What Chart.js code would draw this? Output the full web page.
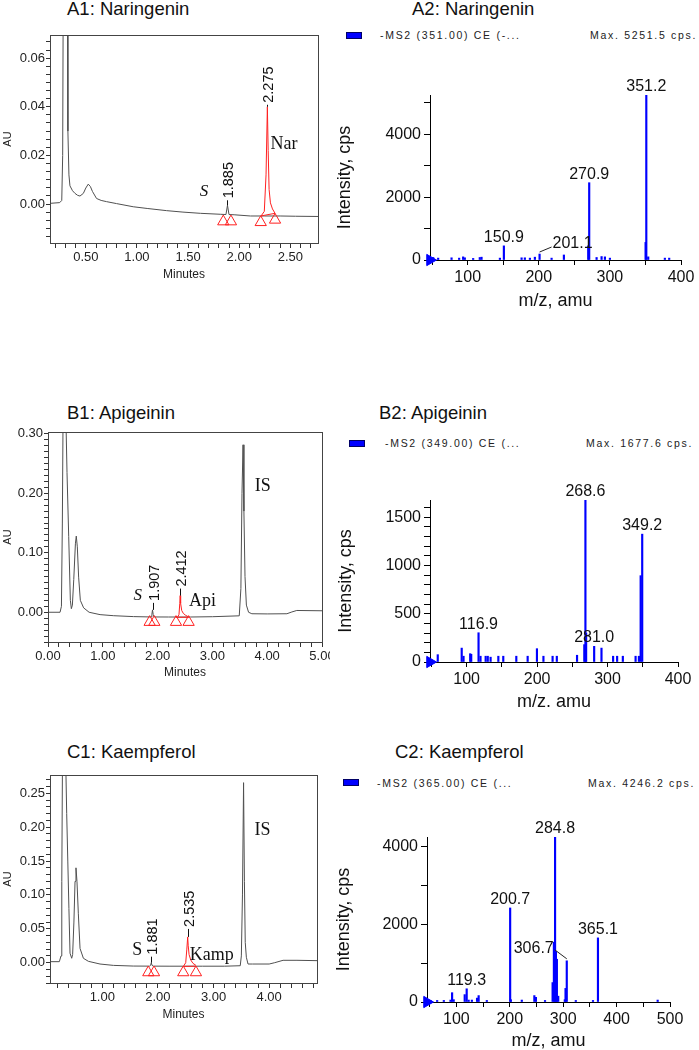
<!DOCTYPE html>
<html>
<head>
<meta charset="utf-8">
<script src="https://cdn.jsdelivr.net/npm/chart.js@4.4.1/dist/chart.umd.min.js"></script>
<style>
  body { margin: 0; background: #fff; }
  #page { position: relative; width: 699px; height: 1050px; overflow: hidden; font-family: 'Liberation Sans', Arial, sans-serif; color: #111; }
  canvas { position: absolute; }
  .ttl { position: absolute; font-size: 18.5px; line-height: 1; white-space: nowrap; }
  .leg { position: absolute; font-size: 10.5px; letter-spacing: 1.7px; line-height: 12px; color: #222; white-space: nowrap; }
  .key { position: absolute; width: 16px; height: 7px; background: #0000ff; border: 1px solid #000066; box-sizing: border-box; }
</style>
</head>
<body>
<div id="page">
  <div class="ttl" style="left:67px; top:0px;">A1: Naringenin</div>
  <div class="ttl" style="left:412px; top:0px;">A2: Naringenin</div>
  <div class="key" style="left:346px; top:32px;"></div>
  <div class="leg" style="left:380px; top:29px;">-MS2 (351.00) CE (-...</div>
  <div class="leg" style="left:590px; top:29px;">Max. 5251.5 cps.</div>

  <div class="ttl" style="left:67px; top:404px;">B1: Apigeinin</div>
  <div class="ttl" style="left:379px; top:404px;">B2: Apigeinin</div>
  <div class="key" style="left:349px; top:440px;"></div>
  <div class="leg" style="left:385px; top:437px;">-MS2 (349.00) CE (...</div>
  <div class="leg" style="left:586px; top:437px;">Max. 1677.6 cps.</div>

  <div class="ttl" style="left:67px; top:743px;">C1: Kaempferol</div>
  <div class="ttl" style="left:395px; top:743px;">C2: Kaempferol</div>
  <div class="key" style="left:343px; top:779px;"></div>
  <div class="leg" style="left:377px; top:777px;">-MS2 (365.00) CE (...</div>
  <div class="leg" style="left:588px; top:777px;">Max. 4246.2 cps.</div>

  <canvas id="a1" width="330" height="270" style="left:0; top:20px;"></canvas>
  <canvas id="a2" width="364" height="260" style="left:335px; top:55px;"></canvas>
  <canvas id="b1" width="330" height="270" style="left:0; top:425px;"></canvas>
  <canvas id="b2" width="364" height="250" style="left:335px; top:470px;"></canvas>
  <canvas id="c1" width="330" height="270" style="left:0; top:765px;"></canvas>
  <canvas id="c2" width="364" height="250" style="left:335px; top:800px;"></canvas>
</div>
<script>
Chart.defaults.font.family = "'Liberation Sans', Arial, sans-serif";
Chart.defaults.color = '#222';

// ---------- A1: Naringenin chromatogram ----------
const a1Time = [0.15, 0.245, 0.265, 0.274, 0.282, 0.30, 0.318, 0.325, 0.335, 0.345, 0.37, 0.394, 0.42, 0.443, 0.476, 0.50, 0.524, 0.545, 0.565, 0.605, 0.65, 0.703, 0.80, 0.964, 1.10, 1.29, 1.45, 1.62, 1.82, 1.87, 1.885, 1.90, 1.95, 2.11, 2.25, 2.40, 2.55, 2.77];
const a1AU = [0.0003, 0.0006, 0.0015, 0.02, 0.12, 0.30, 0.12, 0.03, 0.012, 0.0075, 0.0055, 0.0044, 0.0036, 0.0033, 0.0044, 0.0066, 0.0082, 0.0072, 0.0052, 0.0023, 0.0015, 0.0010, 0.0002, -0.0011, -0.0018, -0.0027, -0.0033, -0.0038, -0.0042, -0.0043, -0.0005, -0.0043, -0.0044, -0.0049, -0.0049, -0.0049, -0.005, -0.0051];
const a1NarTime = [2.215, 2.245, 2.262, 2.275, 2.283, 2.292, 2.305, 2.325, 2.35];
const a1NarAU = [-0.0048, -0.003, 0.012, 0.040, 0.022, 0.006, 0.0005, -0.002, -0.0038];
const a1BaseTime = [2.21, 2.35];
const a1BaseAU = [-0.0049, -0.0038];
const a1MarkTime = [1.844, 1.919, 2.21, 2.35];
const a1MarkAU = [-0.0072, -0.0072, -0.0075, -0.0065];
const a1PeakRT = [1.885, 2.275];
const a1PeakTop = [-0.0005, 0.040];
const a1XLabels = [0.5, 1.0, 1.5, 2.0, 2.5];
const a1YLabels = [0, 0.02, 0.04, 0.06];

// ---------- B1: Apigenin chromatogram ----------
const b1Time = [0.0, 0.22, 0.245, 0.262, 0.28, 0.30, 0.328, 0.347, 0.378, 0.408, 0.426, 0.445, 0.47, 0.50, 0.516, 0.535, 0.559, 0.59, 0.65, 0.75, 0.95, 1.2, 1.56, 1.88, 1.895, 1.907, 1.92, 1.94, 2.2, 2.6, 3.0, 3.49, 3.52, 3.54, 3.559, 3.575, 3.595, 3.62, 3.66, 3.72, 4.0, 4.36, 4.45, 4.54, 5.0];
const b1AU = [0.0, 0.0, 0.01, 0.15, 0.40, 0.45, 0.32, 0.235, 0.127, 0.02, 0.006, 0.012, 0.055, 0.115, 0.128, 0.11, 0.059, 0.02, 0.0074, 0.0, -0.004, -0.0058, -0.0073, -0.0079, -0.004, 0.004, -0.004, -0.0079, -0.008, -0.008, -0.0075, -0.006, 0.04, 0.2, 0.2815, 0.17, 0.06, 0.012, 0.0, -0.0025, -0.0028, -0.0025, 0.0005, 0.003, 0.0025];
const b1ApiTime = [2.365, 2.39, 2.405, 2.412, 2.42, 2.44, 2.47, 2.51, 2.566];
const b1ApiAU = [-0.008, -0.004, 0.015, 0.028, 0.015, 0.003, -0.002, -0.005, -0.008];
const b1BaseTime = [2.336, 2.566];
const b1BaseAU = [-0.0085, -0.0085];
const b1MarkTime = [1.855, 1.94, 2.336, 2.566];
const b1MarkAU = [-0.0166, -0.0166, -0.0166, -0.0166];
const b1PeakRT = [1.907, 2.412];
const b1PeakTop = [0.004, 0.028];
const b1XLabels = [0, 1, 2, 3, 4, 5];
const b1YLabels = [0, 0.1, 0.2, 0.3];

// ---------- C1: Kaempferol chromatogram ----------
const c1Time = [0.06, 0.228, 0.258, 0.272, 0.288, 0.31, 0.342, 0.36, 0.38, 0.40, 0.42, 0.45, 0.467, 0.49, 0.51, 0.527, 0.545, 0.569, 0.60, 0.66, 0.75, 0.959, 1.2, 1.557, 1.85, 1.868, 1.881, 1.895, 1.92, 2.2, 2.45, 2.8, 3.2, 3.48, 3.50, 3.52, 3.54, 3.555, 3.57, 3.59, 3.62, 3.7, 4.0, 4.1, 4.25, 4.5, 4.86];
const c1AU = [0.0015, 0.0015, 0.01, 0.12, 0.35, 0.40, 0.30, 0.22, 0.15, 0.08, 0.014, 0.0065, 0.012, 0.06, 0.12, 0.14, 0.12, 0.073, 0.021, 0.0065, 0.002, -0.002, -0.004, -0.005, -0.0051, -0.004, 0.0, -0.004, -0.0051, -0.0052, -0.0052, -0.0052, -0.0052, -0.0045, 0.01, 0.10, 0.2657, 0.12, 0.03, 0.008, -0.002, -0.002, -0.002, 0.0, 0.0035, 0.0035, 0.003];
const c1KampTime = [2.46, 2.50, 2.52, 2.535, 2.545, 2.56, 2.59, 2.63, 2.684];
const c1KampAU = [-0.0052, 0.0, 0.02, 0.038, 0.025, 0.012, 0.004, -0.001, -0.004];
const c1BaseTime = [2.456, 2.684];
const c1BaseAU = [-0.0055, -0.0052];
const c1MarkTime = [1.827, 1.93, 2.456, 2.684];
const c1MarkAU = [-0.0145, -0.0145, -0.0145, -0.0145];
const c1PeakRT = [1.881, 2.535];
const c1PeakTop = [0.0, 0.038];
const c1XLabels = [1, 2, 3, 4];
const c1YLabels = [0, 0.05, 0.10, 0.15, 0.20, 0.25];

// ---------- A2: Naringenin MS2 spectrum ----------
const a2MZ = [51.5, 58.5, 77.3, 88, 93.6, 96, 107.7, 117, 119.5, 145.3, 150.9, 175.8, 180.4, 187.5, 194.5, 201.1, 218, 235.3, 269.5, 270.9, 281.3, 288.3, 293, 300, 350.2, 351.2, 353.9, 377.3, 383.4];
const a2CPS = [80, 60, 70, 60, 100, 70, 50, 80, 90, 60, 450, 70, 70, 60, 90, 190, 60, 160, 450, 2460, 80, 110, 100, 60, 560, 5251.5, 100, 60, 60];
const a2Peaks = [150.9, 201.1, 270.9, 351.2];
const a2XLabels = [100, 200, 300, 400];
const a2YLabels = [0, 2000, 4000];

// ---------- B2: Apigenin MS2 spectrum ----------
const b2MZ = [59, 93, 95.6, 105, 106.5, 116.9, 119.7, 127, 130, 134, 145, 152, 170.5, 186.6, 199.8, 209, 222, 228, 256.7, 267, 268.6, 269.6, 281.0, 291.4, 307.9, 313.6, 321.7, 339.8, 344.5, 347, 349.2];
const b2CPS = [76, 144, 60, 86, 80, 303, 60, 60, 60, 50, 60, 60, 60, 60, 138, 60, 60, 60, 70, 180, 1677.6, 300, 162, 144, 60, 60, 60, 60, 60, 894, 1324];
const b2Peaks = [116.9, 268.6, 281.0, 349.2];
const b2XLabels = [100, 200, 300, 400];
const b2YLabels = [0, 500, 1000, 1500];

// ---------- C2: Kaempferol MS2 spectrum ----------
const c2MZ = [51.7, 64, 76.5, 89, 92, 95, 115.6, 119.3, 123, 129, 138.7, 141.7, 157, 200.7, 202, 222.5, 246, 249, 266, 280.2, 282.6, 284.8, 286.4, 288.2, 290.7, 303, 304.4, 306.7, 323.6, 355.8, 365.1, 476.9];
const c2CPS = [40, 40, 40, 50, 240, 60, 190, 340, 50, 50, 100, 165, 40, 2420, 60, 50, 165, 120, 40, 500, 1540, 4246.2, 1300, 1100, 150, 60, 350, 1060, 40, 40, 1650, 50];
const c2Peaks = [119.3, 200.7, 284.8, 306.7, 365.1];
const c2XLabels = [100, 200, 300, 400, 500];
const c2YLabels = [0, 2000, 4000];

// ---------- helpers ----------
const pts = (xs, ys) => xs.map((x, i) => ({ x, y: ys[i] }));
const near = (list, v) => list.some(t => Math.abs(t - v) < 1e-6);

function tickRange(min, max, step) {
    const out = [];
    for (let k = Math.ceil(min / step - 1e-6); k * step <= max + 1e-9; k++) out.push(+(k * step).toFixed(6));
    return out;
}

// fixed axis box sizes, and no extra room for edge labels
function fixWidth(w) {
    return s => { s.width = w; s.paddingTop = 0; s.paddingBottom = 0; s.paddingLeft = 0; s.paddingRight = 0; };
}
function fixHeight(h) {
    return s => { s.height = h; s.paddingTop = 0; s.paddingBottom = 0; s.paddingLeft = 0; s.paddingRight = 0; };
}

const RED = '#ff2020';
const SERIF = '"Liberation Serif", "Times New Roman", serif';

function chromatogram(id, c) {
    return new Chart(document.getElementById(id), {
        type: 'line',
        data: {
            datasets: [
                { data: pts(c.markT, c.markAU), showLine: false, pointStyle: 'triangle', pointRadius: 6.5, pointBorderColor: RED, pointBackgroundColor: 'rgba(0,0,0,0)', pointBorderWidth: 1, clip: false },
                { data: pts(c.redT, c.redAU), borderColor: RED, borderWidth: 1, pointRadius: 0 },
                { data: pts(c.baseT, c.baseAU), borderColor: RED, borderWidth: 1, pointRadius: 0 },
                { data: pts(c.t, c.au), borderColor: '#505050', borderWidth: 1, pointRadius: 0 }
            ]
        },
        options: {
            responsive: false, animation: false, events: [],
            layout: { autoPadding: false, padding: { top: c.padTop, right: c.padRight, left: 0, bottom: 0 } },
            plugins: { legend: { display: false }, tooltip: { enabled: false } },
            scales: {
                x: {
                    type: 'linear', min: c.xMin, max: c.xMax,
                    afterFit: fixHeight(c.xH),
                    afterBuildTicks: s => { s.ticks = tickRange(c.xMin, c.xMax, c.xStep).map(value => ({ value })); },
                    ticks: { autoSkip: false, maxRotation: 0, minRotation: 0, padding: 2, font: { size: 13 }, color: '#222',
                             callback: v => near(c.xLabels, v) ? v.toFixed(2) : '' },
                    grid: { drawOnChartArea: false, tickLength: 5, color: '#333' },
                    border: { display: false },
                    title: { display: true, text: 'Minutes', color: '#222', font: { size: 12, lineHeight: 1 }, padding: { top: 0, bottom: c.xTitlePad } }
                },
                y: {
                    min: c.yMin, max: c.yMax,
                    afterFit: fixWidth(c.yW),
                    afterBuildTicks: s => { s.ticks = tickRange(c.yMin, c.yMax, c.yStep).map(value => ({ value })); },
                    ticks: { autoSkip: false, padding: 1, font: { size: 13 }, color: '#222',
                             callback: v => near(c.yLabels, v) ? v.toFixed(2) : '' },
                    grid: { drawOnChartArea: false, tickLength: 4, color: '#333' },
                    border: { display: false },
                    title: { display: true, text: 'AU', color: '#222', font: { size: 11, lineHeight: 1 }, padding: { top: 2, bottom: 0 } }
                }
            }
        },
        plugins: [{
            id: 'chromMarks',
            afterDatasetsDraw(chart) {
                const { ctx, chartArea: a, scales: { x, y } } = chart;
                ctx.save();
                // frame round the plot
                ctx.strokeStyle = '#444';
                ctx.lineWidth = 1;
                const L = Math.round(a.left) + 0.5, T = Math.round(a.top) + 0.5;
                ctx.strokeRect(L, T, Math.round(a.right) - Math.round(a.left), Math.round(a.bottom) - Math.round(a.top));
                // retention time labels
                ctx.fillStyle = '#111';
                ctx.strokeStyle = '#111';
                c.peakRT.forEach((rt, i) => {
                    const px = Math.round(x.getPixelForValue(rt)) + 0.5;
                    const py = y.getPixelForValue(c.peakTop[i]);
                    const len = c.tick[i];
                    ctx.beginPath(); ctx.moveTo(px, py); ctx.lineTo(px, py - len); ctx.stroke();
                    ctx.save();
                    ctx.translate(px, py - len - 2);
                    ctx.rotate(-Math.PI / 2);
                    ctx.font = '14.5px "Liberation Sans", Arial, sans-serif';
                    ctx.textAlign = 'left';
                    ctx.textBaseline = 'middle';
                    ctx.fillText(rt.toFixed(3), 0, 1);
                    ctx.restore();
                });
                // peak names
                ctx.textAlign = 'center';
                ctx.textBaseline = 'middle';
                c.notes.forEach(n => {
                    ctx.font = n.font;
                    ctx.fillText(n.text, x.getPixelForValue(n.t), y.getPixelForValue(n.au));
                });
                ctx.restore();
            }
        }]
    });
}

function spectrum(id, c) {
    return new Chart(document.getElementById(id), {
        type: 'bar',
        data: {
            datasets: [
                { type: 'scatter', data: [{ x: c.xMin, y: 0 }], pointStyle: 'triangle', pointRotation: 90, pointRadius: 6.5,
                  pointBackgroundColor: '#0000ff', pointBorderColor: '#0000ff', clip: false },
                { data: pts(c.mz, c.cps), backgroundColor: '#0000ff', borderWidth: 0, barThickness: 1.5 }
            ]
        },
        options: {
            responsive: false, animation: false, events: [],
            layout: { autoPadding: false, padding: { top: c.padTop, right: c.padRight, left: 0, bottom: 0 } },
            plugins: { legend: { display: false }, tooltip: { enabled: false } },
            scales: {
                x: {
                    type: 'linear', min: c.xMin, max: c.xMax, offset: false,
                    afterFit: fixHeight(c.xH),
                    afterBuildTicks: s => { s.ticks = tickRange(c.xMin, c.xMax, 50).map(value => ({ value })); },
                    ticks: { autoSkip: false, maxRotation: 0, minRotation: 0, padding: 3, font: { size: 16 }, color: '#111',
                             callback: v => near(c.xLabels, v) ? String(v) : '' },
                    grid: { offset: false, drawOnChartArea: false, tickLength: 5, color: '#000' },
                    border: { display: true, color: '#000' },
                    title: { display: true, text: c.xTitle, color: '#111', font: { size: 18, lineHeight: 1 }, padding: { top: 0, bottom: c.xTitlePad } }
                },
                y: {
                    min: 0, max: c.yMax,
                    afterFit: fixWidth(c.yW),
                    afterBuildTicks: s => { s.ticks = tickRange(0, c.yMax, c.yStep).map(value => ({ value })); },
                    ticks: { autoSkip: false, padding: 3, font: { size: 16 }, color: '#111',
                             callback: v => near(c.yLabels, v) ? String(v) : '' },
                    grid: { drawOnChartArea: false, tickLength: 6, color: '#000' },
                    border: { display: true, color: '#000' },
                    title: { display: true, text: 'Intensity, cps', color: '#111', font: { size: 18, lineHeight: 1 }, padding: { top: c.yTitlePad, bottom: 0 } }
                }
            }
        },
        plugins: [{
            id: 'peakText',
            afterDatasetsDraw(chart) {
                const { ctx, scales: { x, y } } = chart;
                ctx.save();
                ctx.font = '16px "Liberation Sans", Arial, sans-serif';
                ctx.fillStyle = '#111';
                ctx.strokeStyle = '#222';
                ctx.lineWidth = 1;
                c.peaks.forEach(mz => {
                    const i = c.mz.indexOf(mz);
                    const bx = x.getPixelForValue(mz);
                    const top = y.getPixelForValue(c.cps[i]);
                    const text = mz.toFixed(1);
                    const lead = c.leaders[text];
                    if (lead) {
                        const ex = bx + lead.dx, ey = top - 2 + lead.dy;
                        ctx.beginPath(); ctx.moveTo(bx, top - 2); ctx.lineTo(ex, ey); ctx.stroke();
                        ctx.textAlign = lead.align;
                        ctx.textBaseline = 'middle';
                        ctx.fillText(text, ex + (lead.align === 'left' ? 1 : -1), ey + lead.ty);
                    } else {
                        ctx.textAlign = 'center';
                        ctx.textBaseline = 'alphabetic';
                        ctx.fillText(text, bx, top - 4);
                    }
                });
                ctx.restore();
            }
        }]
    });
}

// ---------- build the six panels ----------
chromatogram('a1', {
    t: a1Time, au: a1AU, redT: a1NarTime, redAU: a1NarAU, baseT: a1BaseTime, baseAU: a1BaseAU,
    markT: a1MarkTime, markAU: a1MarkAU, peakRT: a1PeakRT, peakTop: a1PeakTop, tick: [5, 2],
    xMin: 0.15, xMax: 2.77, xStep: 0.1, xLabels: a1XLabels,
    yMin: -0.016, yMax: 0.0695, yStep: 0.02 / 6, yLabels: a1YLabels,
    padTop: 15, padRight: 12, yW: 50, xH: 47, xTitlePad: 9,
    notes: [
        { text: 'S', t: 1.655, au: 0.0053, font: 'italic 17px ' + SERIF },
        { text: 'Nar', t: 2.437, au: 0.0246, font: '18px ' + SERIF }
    ]
});

chromatogram('b1', {
    t: b1Time, au: b1AU, redT: b1ApiTime, redAU: b1ApiAU, baseT: b1BaseTime, baseAU: b1BaseAU,
    markT: b1MarkTime, markAU: b1MarkAU, peakRT: b1PeakRT, peakTop: b1PeakTop, tick: [7, 7],
    xMin: 0, xMax: 5, xStep: 0.2, xLabels: b1XLabels,
    yMin: -0.05, yMax: 0.303, yStep: 0.01, yLabels: b1YLabels,
    padTop: 7, padRight: 8, yW: 48, xH: 53, xTitlePad: 16,
    notes: [
        { text: 'S', t: 1.64, au: 0.028, font: 'italic 17px ' + SERIF },
        { text: 'Api', t: 2.82, au: 0.018, font: '18px ' + SERIF },
        { text: 'IS', t: 3.92, au: 0.212, font: '18px ' + SERIF }
    ]
});

chromatogram('c1', {
    t: c1Time, au: c1AU, redT: c1KampTime, redAU: c1KampAU, baseT: c1BaseTime, baseAU: c1BaseAU,
    markT: c1MarkTime, markAU: c1MarkAU, peakRT: c1PeakRT, peakTop: c1PeakTop, tick: [6, 8],
    xMin: 0.06, xMax: 4.86, xStep: 0.2, xLabels: c1XLabels,
    yMin: -0.03, yMax: 0.277, yStep: 0.01, yLabels: c1YLabels,
    padTop: 10, padRight: 13, yW: 50, xH: 52, xTitlePad: 14,
    notes: [
        { text: 'S', t: 1.63, au: 0.0187, font: '18px ' + SERIF },
        { text: 'Kamp', t: 2.97, au: 0.0114, font: '18px ' + SERIF },
        { text: 'IS', t: 3.88, au: 0.196, font: '18px ' + SERIF }
    ]
});

spectrum('a2', {
    mz: a2MZ, cps: a2CPS, peaks: a2Peaks,
    leaders: { '201.1': { dx: 12, dy: -5, align: 'left', ty: -3.5 } },
    xMin: 47, xMax: 400, xLabels: a2XLabels, xTitle: 'm/z, amu',
    yMax: 5251.5, yStep: 1000, yLabels: a2YLabels,
    padTop: 40, padRight: 18, yW: 95, xH: 55, xTitlePad: 5, yTitlePad: 1
});

spectrum('b2', {
    mz: b2MZ, cps: b2CPS, peaks: b2Peaks, leaders: {},
    xMin: 48, xMax: 400, xLabels: b2XLabels, xTitle: 'm/z. amu',
    yMax: 1677.6, yStep: 100, yLabels: b2YLabels,
    padTop: 30, padRight: 21, yW: 95, xH: 58, xTitlePad: 9, yTitlePad: 2
});

spectrum('c2', {
    mz: c2MZ, cps: c2CPS, peaks: c2Peaks,
    leaders: { '306.7': { dx: -12, dy: -9, align: 'right', ty: -1 } },
    xMin: 45, xMax: 500, xLabels: c2XLabels, xTitle: 'm/z, amu',
    yMax: 4246.2, yStep: 1000, yLabels: c2YLabels,
    padTop: 37, padRight: 29, yW: 92, xH: 48, xTitlePad: 0, yTitlePad: 0
});
</script>
</body>
</html>
